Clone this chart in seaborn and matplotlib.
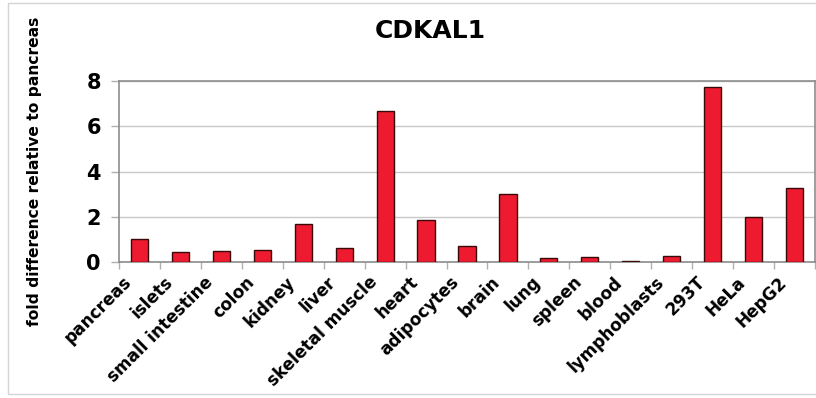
import matplotlib
matplotlib.use("Agg")
import matplotlib.pyplot as plt
from matplotlib.patches import Rectangle
from matplotlib.transforms import ScaledTranslation
import seaborn as sns
import pandas as pd
import numpy as np

# Tissue / cell line panel and CDKAL1 expression (fold difference vs pancreas)
tissues = ["pancreas", "islets", "small intestine", "colon", "kidney", "liver",
           "skeletal muscle", "heart", "adipocytes", "brain", "lung", "spleen",
           "blood", "lymphoblasts", "293T", "HeLa", "HepG2"]
fold_change = [1.00, 0.46, 0.49, 0.51, 1.66, 0.62, 6.68, 1.87, 0.72, 3.01,
               0.18, 0.24, 0.03, 0.26, 7.74, 1.97, 3.28]
y_ticks = [0, 2, 4, 6, 8]

df = pd.DataFrame({"tissue": tissues, "fold": fold_change})

sns.set_theme(style="white")
plt.rcParams["font.family"] = ["DejaVu Sans"]
plt.rcParams["text.color"] = "black"
plt.rcParams["xtick.color"] = "black"
plt.rcParams["ytick.color"] = "black"
plt.rcParams["xtick.labelcolor"] = "black"
plt.rcParams["ytick.labelcolor"] = "black"

fig = plt.figure(figsize=(8.16, 3.98), dpi=100)
fig.patch.set_facecolor("white")

# thin light frame around the chart area
fig.patches.append(Rectangle((8 / 816, 4 / 398), 1.0, 391 / 398,
                             transform=fig.transFigure, fill=False,
                             edgecolor="#d4d4d4", linewidth=1.0))

ax = fig.add_axes([119 / 816, 1 - 262 / 398, 696 / 816, 181 / 398])

sns.barplot(data=df, x="tissue", y="fold", color="#ee1b30", width=0.42,
            edgecolor="#3a0a0a", linewidth=1.0, saturation=1, ax=ax, zorder=3)

ax.set_ylim(0, 8)
ax.set_xlim(-0.5, len(tissues) - 0.5)
ax.set_yticks(y_ticks)
ax.set_yticklabels([str(t) for t in y_ticks], fontsize=15, fontweight="bold")
ax.yaxis.grid(True, color="#c8c8c8", linewidth=1.0, zorder=0)
ax.set_axisbelow(True)

# category labels at bar centres, tick marks between categories
ax.set_xticks(np.arange(len(tissues)))
ax.set_xticklabels(tissues, rotation=45, ha="right", rotation_mode="anchor",
                   fontsize=12.2, fontweight="bold")
ax.set_xticks(np.arange(len(tissues) + 1) - 0.5, minor=True)
ax.tick_params(axis="x", which="major", length=0, pad=8)
ax.tick_params(axis="x", which="minor", length=5, color="#b0b0b0", width=1,
               direction="out", bottom=True)
ax.tick_params(axis="y", which="major", length=6, color="#b0b0b0", width=1,
               direction="out", left=True, pad=7)

# nudge the slanted labels so they sit left of each bar centre
shift = ScaledTranslation(-17 / 100, 0, fig.dpi_scale_trans)
for tick in ax.xaxis.get_major_ticks():
    tick.label1.set_transform(tick.label1.get_transform() + shift)

for side in ["top", "right", "left", "bottom"]:
    ax.spines[side].set_visible(True)
    ax.spines[side].set_color("#8c8c8c")
    ax.spines[side].set_linewidth(1.2)

ax.set_xlabel("")
ax.set_ylabel("")

fig.text(430 / 816, 1 - 31.5 / 398, "CDKAL1", ha="center", va="center",
         fontsize=18, fontweight="bold", color="black")
fig.text(35 / 816, 1 - 171 / 398, "fold difference relative to pancreas",
         rotation=90, ha="center", va="center", fontsize=11.2,
         fontweight="bold", color="black")

fig.savefig("out.png", dpi=100, facecolor="white")
